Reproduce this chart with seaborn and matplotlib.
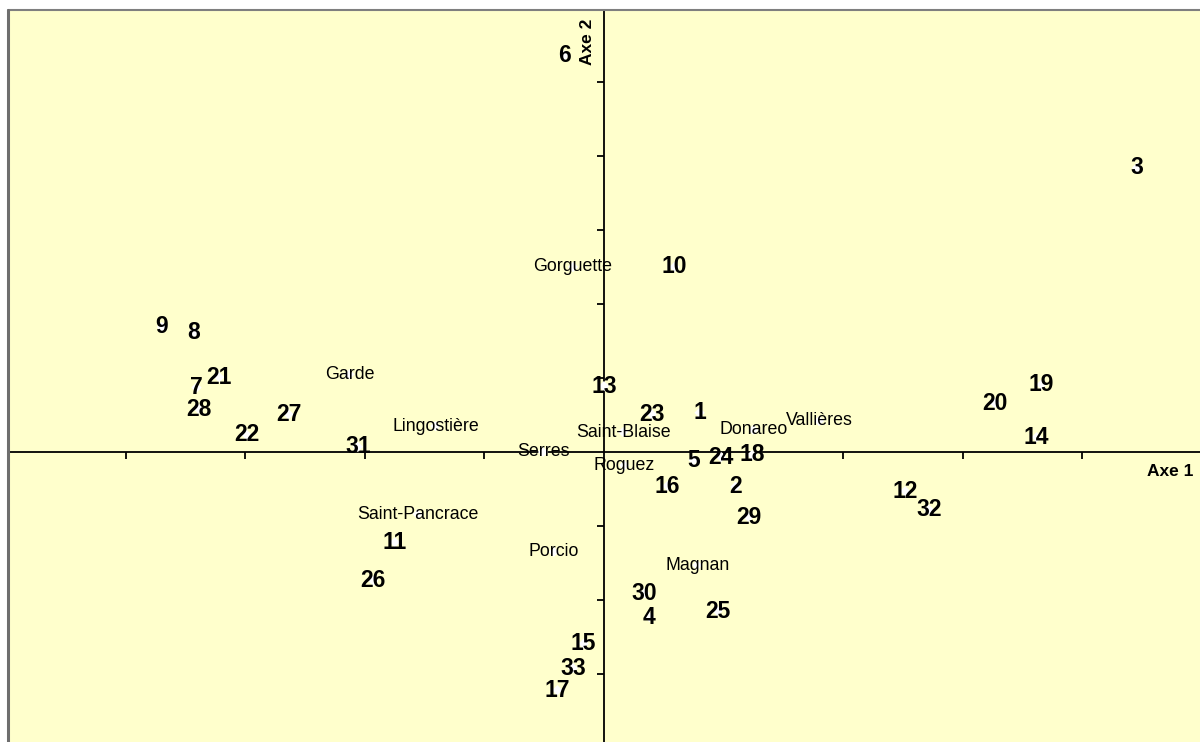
import matplotlib
matplotlib.use("Agg")
import matplotlib.pyplot as plt
import seaborn as sns
import pandas as pd
from matplotlib.lines import Line2D

# ---- data (factor map coordinates) ----
obs_labels = ["6", "3", "10", "9", "8", "21", "7", "28", "27", "22", "31",
              "13", "23", "1", "5", "24", "18", "16", "2", "29", "12", "32",
              "20", "19", "14", "11", "26", "30", "4", "25", "15", "33", "17"]
obs_x = [-0.33, 4.46, 0.59, -3.70, -3.43, -3.22, -3.41, -3.39, -2.64, -2.99, -2.06,
         0.00, 0.40, 0.80, 0.75, 0.98, 1.24, 0.53, 1.10, 1.21, 2.52, 2.72,
         3.27, 3.66, 3.62, -1.75, -1.93, 0.34, 0.38, 0.95, -0.17, -0.26, -0.39]
obs_y = [5.36, 3.84, 2.50, 1.69, 1.62, 1.01, 0.87, 0.58, 0.51, 0.23, 0.07,
         0.89, 0.51, 0.53, -0.11, -0.07, -0.04, -0.46, -0.47, -0.88, -0.53, -0.78,
         0.66, 0.91, 0.20, -1.22, -1.74, -1.91, -2.23, -2.15, -2.59, -2.92, -3.22]

site_labels = ["Gorguette", "Garde", "Lingostière", "Saint-Blaise", "Serres", "Roguez",
               "Donareo", "Vallières", "Saint-Pancrace", "Porcio", "Magnan"]
site_x = [-0.26, -2.13, -1.41, 0.16, -0.51, 0.17, 1.25, 1.80, -1.56, -0.42, 0.78]
site_y = [2.50, 1.05, 0.35, 0.27, 0.00, -0.18, 0.30, 0.42, -0.84, -1.35, -1.53]

x_ticks = [-4, -3, -2, -1, 1, 2, 3, 4]
y_ticks = [-3, -2, -1, 1, 2, 3, 4, 5]
axis1_label = "Axe 1"
axis2_label = "Axe 2"

# ---- styling ----
sns.set_style("white")
plt.rcParams["font.family"] = ["Liberation Sans", "DejaVu Sans"]
plt.rcParams["text.color"] = "black"

BG = "#FFFFCC"
fig = plt.figure(figsize=(12, 7.42), dpi=100)
fig.patch.set_facecolor("white")
ax = fig.add_axes([8 / 1200, 0, 1192 / 1200, 732 / 742])
ax.set_facecolor(BG)

df_obs = pd.DataFrame({"x": obs_x, "y": obs_y, "label": obs_labels})
df_site = pd.DataFrame({"x": site_x, "y": site_y, "label": site_labels})
df_all = pd.concat([df_obs, df_site], ignore_index=True)

sns.scatterplot(data=df_all, x="x", y="y", marker="D", color="white",
                edgecolor="none", s=28, ax=ax, zorder=3, legend=False)

for _, r in df_obs.iterrows():
    ax.text(r.x, r.y, r.label, ha="center", va="center", fontsize=16.5,
            fontweight="bold", color="black", zorder=4)
for _, r in df_site.iterrows():
    ax.text(r.x, r.y, r.label, ha="center", va="center", fontsize=12.8,
            color="black", zorder=4)

ax.set_xlim(-4.987, 4.987)
ax.set_ylim(-3.919, 5.973)

# axes crossing at origin
for s in ["top", "right"]:
    ax.spines[s].set_visible(False)
ax.spines["left"].set_position(("data", 0))
ax.spines["bottom"].set_position(("data", 0))
ax.spines["left"].set_color("black")
ax.spines["bottom"].set_color("black")
ax.spines["left"].set_linewidth(1.3)
ax.spines["bottom"].set_linewidth(1.3)
ax.set_xticks(x_ticks)
ax.set_yticks(y_ticks)
ax.tick_params(axis="both", direction="out", length=5, width=1.3,
               bottom=True, left=True, top=False, right=False,
               labelbottom=False, labelleft=False, color="black")
ax.set_xlabel("")
ax.set_ylabel("")

ax.text(4.93, -0.27, axis1_label, ha="right", va="center", fontsize=12.5,
        fontweight="bold", color="black")
ax.text(-0.14, 5.86, axis2_label, ha="center", va="top", fontsize=12.5,
        fontweight="bold", rotation=90, color="black")

# outer frame (top and left edges)
fig.add_artist(Line2D([8 / 1200, 1], [1 - 10 / 742, 1 - 10 / 742],
                      transform=fig.transFigure, color="#7f7f7f", lw=1.5))
fig.add_artist(Line2D([8 / 1200, 8 / 1200], [0, 1 - 10 / 742],
                      transform=fig.transFigure, color="#6e6e6e", lw=2.2))

fig.savefig("out.png", dpi=100, facecolor=fig.get_facecolor())
